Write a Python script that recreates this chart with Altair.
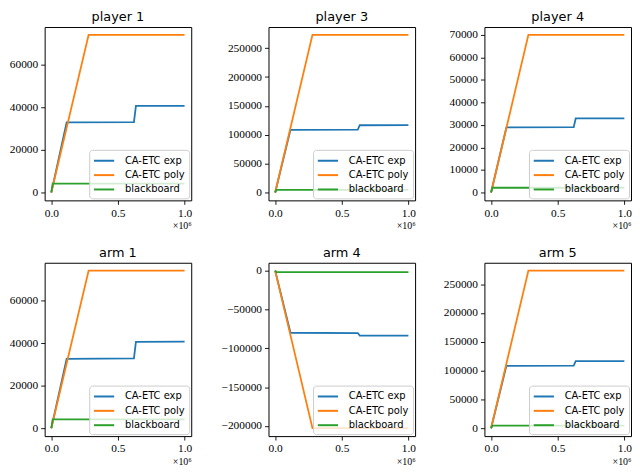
import altair as alt
import pandas as pd

SERIES = ["CA-ETC exp", "CA-ETC poly", "blackboard"]
COLORS = ["#1f77b4", "#ff7f0e", "#2ca02c"]

PANELS = ["player 1", "player 3", "player 4", "arm 1", "arm 4", "arm 5"]

# breakpoints (x in units of 10^6)
X_EXP = [0.0, 0.115, 0.62, 0.635, 1.0]
X_POLY = [0.0, 0.28, 1.0]
X_BB = [0.0, 0.01, 1.0]

EXP = {
    "player 1": [0, 32900, 33000, 40700, 40700],
    "player 3": [0, 108600, 109000, 116500, 116700],
    "player 4": [0, 28900, 29000, 32900, 32900],
    "arm 1": [0, 32600, 32800, 40600, 40700],
    "arm 4": [0, -80000, -80400, -83600, -83800],
    "arm 5": [0, 108200, 108600, 116400, 116400],
}
POLY = {
    "player 1": [0, 74000, 74000],
    "player 3": [0, 273000, 273000],
    "player 4": [0, 70000, 70000],
    "arm 1": [0, 74000, 74000],
    "arm 4": [0, -203000, -203000],
    "arm 5": [0, 273500, 273500],
}
BB = {
    "player 1": [0, 4200, 4200],
    "player 3": [0, 4600, 4600],
    "player 4": [0, 2100, 2100],
    "arm 1": [0, 4200, 4200],
    "arm 4": [0, -2000, -2000],
    "arm 5": [0, 4500, 4500],
}
Y_TICKS = {
    "player 1": [0, 20000, 40000, 60000],
    "player 3": [0, 50000, 100000, 150000, 200000, 250000],
    "player 4": [0, 10000, 20000, 30000, 40000, 50000, 60000, 70000],
    "arm 1": [0, 20000, 40000, 60000],
    "arm 4": [0, -50000, -100000, -150000, -200000],
    "arm 5": [0, 50000, 100000, 150000, 200000, 250000],
}
X_TICKS = [0.0, 0.5, 1.0]

EXTENT = [36, 52, 44]
W, H = 148, 175
SERIF = "Liberation Serif"
AXIS_STYLE = dict(grid=False, domain=False, tickColor="black", tickSize=4,
                  tickWidth=0.9, labelFont=SERIF, labelFontSize=11.5,
                  labelColor="black", labelPadding=3)


def panel(name, col):
    rows = []
    for s, xs, ys in [(SERIES[0], X_EXP, EXP[name]),
                      (SERIES[1], X_POLY, POLY[name]),
                      (SERIES[2], X_BB, BB[name])]:
        for i, (x, y) in enumerate(zip(xs, ys)):
            rows.append({"x": x, "y": y, "series": s, "i": i})
    df = pd.DataFrame(rows)
    allv = EXP[name] + POLY[name] + BB[name]
    lo, hi = min(allv), max(allv)
    pad = 0.05 * (hi - lo)
    return alt.Chart(df).mark_line(strokeWidth=1.8, clip=True).encode(
        x=alt.X("x:Q",
                scale=alt.Scale(domain=[-0.05, 1.05], nice=False, zero=False),
                axis=alt.Axis(values=X_TICKS, format=".1f", title="×10⁶",
                              titleAnchor="end", titleFont=SERIF,
                              titleFontSize=10, titleFontWeight="normal",
                              titlePadding=2, titleColor="black", **AXIS_STYLE)),
        y=alt.Y("y:Q",
                scale=alt.Scale(domain=[lo - pad, hi + pad], nice=False, zero=False),
                axis=alt.Axis(values=Y_TICKS[name], format="d", title=None,
                              minExtent=EXTENT[col], maxExtent=EXTENT[col],
                              **AXIS_STYLE)),
        color=alt.Color("series:N",
                        scale=alt.Scale(domain=SERIES, range=COLORS),
                        legend=alt.Legend(title=None, orient="bottom-right")),
        order="i:Q",
    ).properties(width=W, height=H, title=name)


row1 = alt.hconcat(*[panel(n, c) for c, n in enumerate(PANELS[:3])], spacing=24
                   ).resolve_scale(color="independent").resolve_legend(color="independent")
row2 = alt.hconcat(*[panel(n, c) for c, n in enumerate(PANELS[3:])], spacing=24
                   ).resolve_scale(color="independent").resolve_legend(color="independent")

chart = alt.vconcat(row1, row2, spacing=15).resolve_scale(
    color="independent").resolve_legend(color="independent").properties(padding=0)

chart = chart.configure_view(stroke="black", strokeWidth=1).configure_title(
    font="DejaVu Sans", fontSize=13, fontWeight="normal", color="black", offset=3,
).configure_legend(
    offset=2, padding=4, fillColor="rgba(255,255,255,0.8)", strokeColor="#cccccc",
    cornerRadius=3, symbolType="M-1.7,0H1.7", symbolStrokeWidth=2, symbolSize=144,
    symbolOffset=4, labelFont="DejaVu Sans", labelFontSize=10, labelOffset=14,
    rowPadding=2.5, labelColor="black",
)

chart.save("out.html", embed_options={"renderer": "svg", "actions": False})
